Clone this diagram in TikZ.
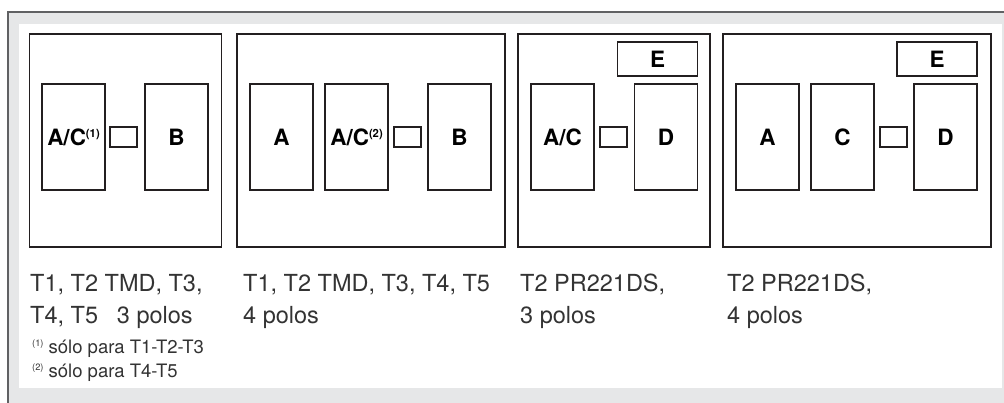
\documentclass[tikz,border=0pt]{standalone}
\usepackage{fontspec}
\setmainfont{TeX Gyre Heros}
\usetikzlibrary{positioning}
\definecolor{bandgray}{HTML}{E6E7E8}
\definecolor{framegray}{HTML}{606163}
\definecolor{inkdark}{HTML}{231F20}
\definecolor{captext}{HTML}{333333}
\newcommand{\supnote}[1]{\raisebox{0.33em}{\scalebox{0.5}{(#1)}}}

\begin{document}
\begin{tikzpicture}[
  x=1pt, y=-1pt, node distance=6pt,
  outline/.style={draw=inkdark, line width=1.8pt, inner sep=0pt, outer sep=0pt},
  narrowp/.style={outline, anchor=north west, minimum width=192pt, minimum height=213pt},
  widep/.style={outline, anchor=north west, minimum width=268pt, minimum height=213pt},
  pole/.style={outline, minimum width=63pt, minimum height=106pt,
               font=\fontsize{22.5}{26}\selectfont\bfseries},
  link/.style={outline, minimum width=27pt, minimum height=20pt},
  ebox/.style={outline, minimum width=80pt, minimum height=34pt,
               font=\fontsize{22.5}{26}\selectfont\bfseries},
  captxt/.style={anchor=north west, inner sep=0pt, align=left, text=captext,
              font=\fontsize{23.5}{32}\selectfont},
  notetxt/.style={anchor=base west, inner sep=0pt, text=captext,
               font=\fontsize{18.5}{24}\selectfont},
]
\useasboundingbox (0,0) rectangle (1004,403);

% ---- grey frame round the sheet ----
\fill[bandgray] (8,12) rectangle (1004,403);
\fill[white] (19,24) rectangle (1002,388);
\draw[framegray, line width=1.5pt] (8,403) -- (8,12) -- (1004,12);

% ---- the four panels ----
\node[narrowp] (p1) at (29.5,34) {};
\node[widep]   (p2) at (237,34)  {};
\node[narrowp] (p3) at (518,34)  {};
\node[widep]   (p4) at (723,34)  {};

% ---- panel 1: 3 polos ----
\node[pole, anchor=north west] (ac1) at (42,84) {A/C\supnote{1}};
\node[link, right=5pt of ac1] (lk1) {};
\node[pole, right=8pt of lk1]  (b1)  {B};

% ---- panel 2: 4 polos ----
\node[pole, anchor=north west] (a2) at (250,84) {A};
\node[pole, right=12pt of a2]  (ac2) {A/C\supnote{2}};
\node[link, right=of ac2]      (lk2) {};
\node[pole, right=7pt of lk2]  (b2)  {B};

% ---- panel 3: PR221DS, 3 polos ----
\node[pole, anchor=north west] (ac3) at (531,84) {A/C};
\node[link, right=of ac3]       (lk3) {};
\node[pole, right=7.5pt of lk3] (d3)  {D};
\node[ebox, above left=8pt and 0pt of d3.north east] (e3) {E};

% ---- panel 4: PR221DS, 4 polos ----
\node[pole, anchor=north west] (a4) at (736,84) {A};
\node[pole, right=12pt of a4]  (c4)  {C};
\node[link, right=of c4]       (lk4) {};
\node[pole, right=7pt of lk4]  (d4)  {D};
\node[ebox, above left=8pt and 0pt of d4.north east] (e4) {E};

% ---- captions ----
\node[captxt] (cap1) at (30,274)  {T1, T2 TMD, T3,\\T4, T5\hspace{0.8em}3 polos};
\node[captxt] (cap2) at (243,274) {T1, T2 TMD, T3, T4, T5\\4 polos};
\node[captxt] (cap3) at (520,274) {T2 PR221DS,\\3 polos};
\node[captxt] (cap4) at (727,274) {T2 PR221DS,\\4 polos};

\node[notetxt] (n1) at (32,353) {\supnote{1} sólo para T1-T2-T3};
\node[notetxt] (n2) at (32,377) {\supnote{2} sólo para T4-T5};

\end{tikzpicture}
\end{document}
